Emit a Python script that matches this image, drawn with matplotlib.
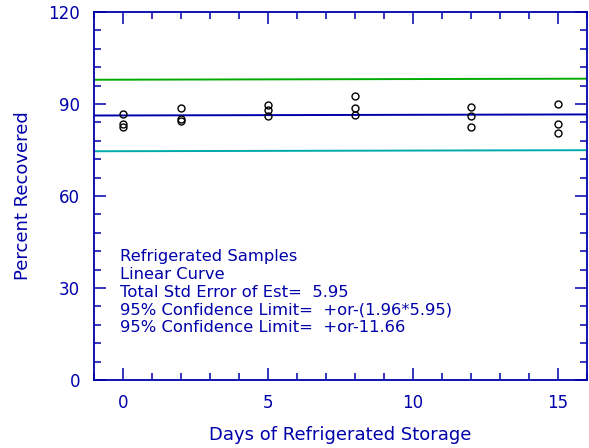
import numpy as np
import matplotlib
matplotlib.use("Agg")
import matplotlib.pyplot as plt
from matplotlib.ticker import MultipleLocator

# Data
days = [0, 0, 0, 2, 2, 2, 5, 5, 5, 8, 8, 8, 12, 12, 12, 15, 15, 15]
recovered = [86.6, 83.4, 82.6, 88.8, 85.0, 84.3, 89.8, 87.9, 86.0,
             92.7, 88.6, 86.4, 89.1, 86.1, 82.6, 90.0, 83.5, 80.4]

fit_x = [-1, 16]
fit_y = [86.25, 86.6]
conf_limit = 11.66

notes = ["Refrigerated Samples",
         "Linear Curve",
         "Total Std Error of Est=  5.95",
         "95% Confidence Limit=  +or-(1.96*5.95)",
         "95% Confidence Limit=  +or-11.66"]

blue = "#0000aa"
plt.rcParams['font.family'] = ['DejaVu Sans']

fig = plt.figure(figsize=(5.89, 4.48), dpi=100)
ax = fig.add_axes([0.1596, 0.1518, 0.837, 0.8214])

fit_y = np.array(fit_y)
ax.plot(fit_x, fit_y + conf_limit, color="#00aa00", lw=1.4)
ax.plot(fit_x, fit_y, color=blue, lw=1.4)
ax.plot(fit_x, fit_y - conf_limit, color="#00aaaa", lw=1.4)
ax.plot(days, recovered, 'o', mfc='none', mec='black', ms=5, mew=1.0)

ax.set_xlim(-1, 16)
ax.set_ylim(0, 120)
ax.xaxis.set_major_locator(MultipleLocator(5))
ax.xaxis.set_minor_locator(MultipleLocator(1))
ax.yaxis.set_major_locator(MultipleLocator(30))
ax.yaxis.set_minor_locator(MultipleLocator(6))
ax.tick_params(which='both', direction='in', top=True, right=True,
               color=blue, labelcolor=blue, labelsize=12, width=1.1)
ax.tick_params(which='major', length=8.5, pad=10)
ax.tick_params(which='minor', length=5)
for s in ax.spines.values():
    s.set_color(blue)
    s.set_linewidth(1.3)

ax.set_xlabel("Days of Refrigerated Storage", color=blue, fontsize=13, labelpad=10)
ax.set_ylabel("Percent Recovered", color=blue, fontsize=13, labelpad=12)

for i, line in enumerate(notes):
    ax.text(0.053, 0.335 - i * 0.048, line, transform=ax.transAxes,
            color=blue, fontsize=11.8, va='center', ha='left')

fig.savefig("out.png", dpi=100)
